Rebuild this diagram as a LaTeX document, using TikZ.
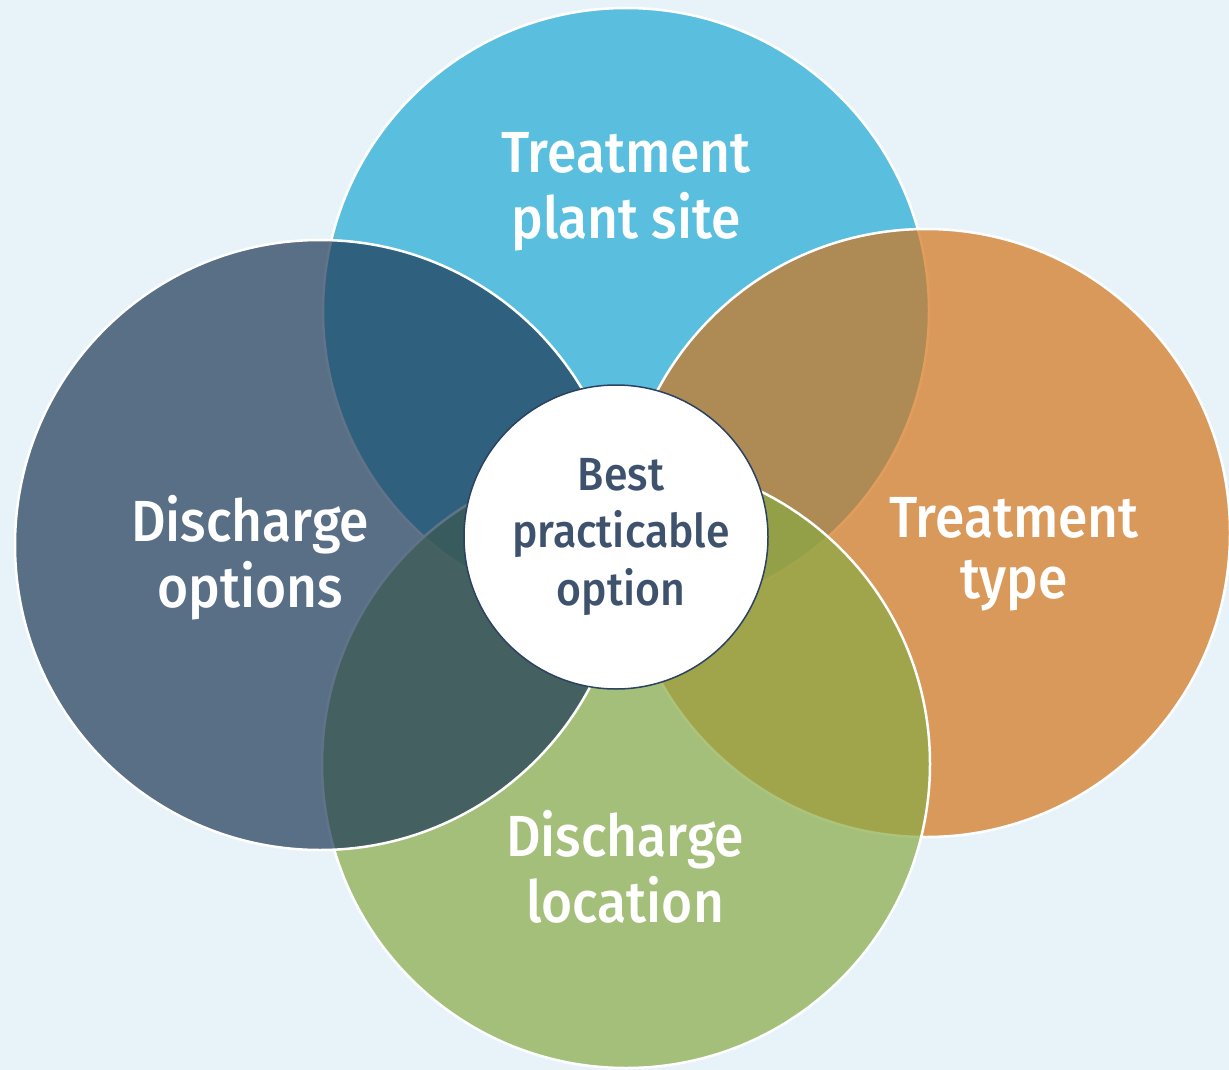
\documentclass[tikz,border=0pt]{standalone}
\usepackage{fontspec}
\setmainfont{Fira Sans}[UprightFont={* Medium}, FakeStretch=0.92]
\definecolor{bgc}{RGB}{232,243,249}
\definecolor{cblue}{RGB}{31,169,213}
\definecolor{corange}{RGB}{211,116,25}
\definecolor{cgreen}{RGB}{136,170,68}
\definecolor{cslate}{RGB}{29,56,86}
\definecolor{ctext}{RGB}{62,82,110}
\definecolor{cborder}{RGB}{43,66,96}
\tikzset{
  bigcircle/.style={circle, draw=white, line width=2.5pt, fill opacity=0.7, draw opacity=1, minimum size=606pt, inner sep=0pt},
  outerlabel/.style={text=white, align=center, font=\fontsize{58}{66}\selectfont, inner sep=0pt},
  centerlabel/.style={text=ctext, align=center, font=\fontsize{46.5}{57.5}\selectfont, inner sep=0pt}
}
\begin{document}
\begin{tikzpicture}[x=1pt,y=-1pt]
\useasboundingbox (0,0) rectangle (1229,1070);
\fill[bgc] (0,0) rectangle (1229,1070);
\node[bigcircle, fill=cblue, minimum size=606pt] (top) at (626,311) {};
\node[bigcircle, fill=corange, minimum size=608pt] (right) at (926,533) {};
\node[bigcircle, fill=cgreen, minimum size=608pt] (bottom) at (626,764) {};
\node[bigcircle, fill=cslate, minimum size=610pt] (left) at (320,545) {};
\node[circle, fill=white, draw=cborder, line width=1.5pt, minimum size=304pt, inner sep=0pt] (center) at (616,537) {};
\node[outerlabel, anchor=base] (ltop) at (626,238) {Treatment\\plant site};
\node[outerlabel, anchor=base, font=\fontsize{58}{61}\selectfont] (lright) at (1014,598) {Treatment\\type};
\node[outerlabel, anchor=base] (lbottom) at (625,922) {Discharge\\location};
\node[outerlabel, anchor=base] (lleft) at (250,607) {Discharge\\options};
\node[centerlabel, anchor=base] (lcenter) at (621,605) {Best\\practicable\\option};
\end{tikzpicture}
\end{document}
